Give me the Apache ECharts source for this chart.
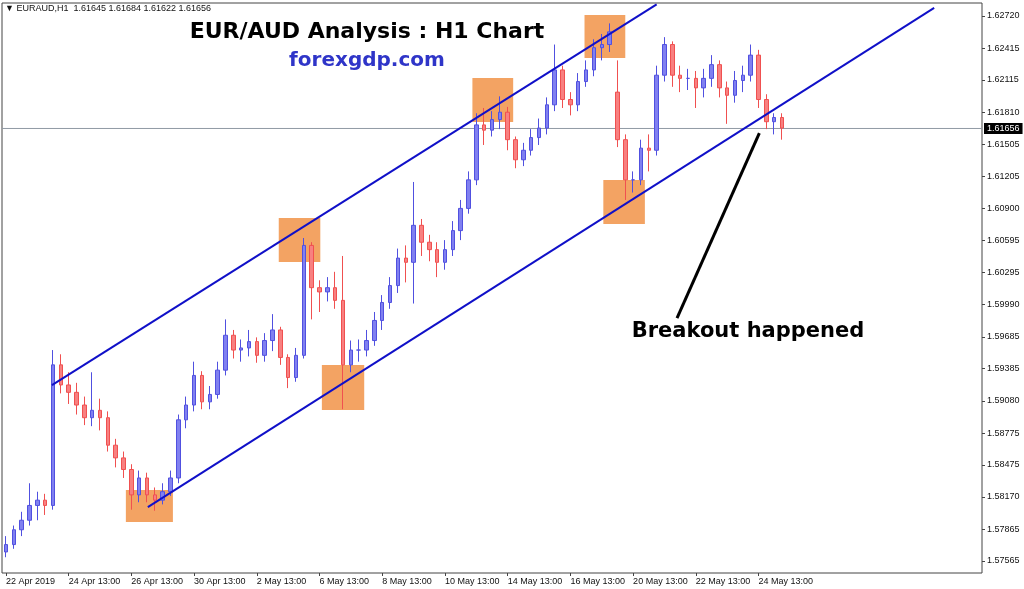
<!DOCTYPE html>
<html><head><meta charset="utf-8">
<script src="https://cdn.jsdelivr.net/npm/echarts@6/dist/echarts.min.js"></script>
<style>html,body{margin:0;padding:0;background:#fff}#c{width:1024px;height:589px}</style>
</head><body><div id="c"></div>
<script>
// [open, close, low, high], each candle = 6 H1 bars
const candles = [
[1.5765,1.5772,1.5760,1.5780],[1.5772,1.5786,1.5768,1.5790],[1.5786,1.5795,1.5780,1.5803],[1.5795,1.5809,1.5790,1.5830],
[1.5809,1.5814,1.5795,1.5822],[1.5814,1.5809,1.5800,1.5820],[1.5809,1.5942,1.5805,1.5956],[1.5942,1.5923,1.5915,1.5952],
[1.5923,1.5916,1.5905,1.5935],[1.5916,1.5904,1.5895,1.5925],[1.5904,1.5892,1.5885,1.5912],[1.5892,1.5899,1.5884,1.5935],
[1.5899,1.5892,1.5880,1.5910],[1.5892,1.5866,1.5860,1.5898],[1.5866,1.5854,1.5845,1.5872],[1.5854,1.5843,1.5835,1.5860],
[1.5843,1.5819,1.5805,1.5848],[1.5819,1.5835,1.5812,1.5842],[1.5835,1.5819,1.5812,1.5840],[1.5819,1.5814,1.5804,1.5826],
[1.5814,1.5822,1.5810,1.5830],[1.5822,1.5835,1.5818,1.5842],[1.5835,1.5890,1.5830,1.5895],[1.5890,1.5904,1.5882,1.5912],
[1.5904,1.5932,1.5898,1.5945],[1.5932,1.5907,1.5900,1.5936],[1.5907,1.5914,1.5900,1.5922],[1.5914,1.5937,1.5910,1.5945],
[1.5937,1.5970,1.5932,1.5985],[1.5970,1.5956,1.5948,1.5975],[1.5956,1.5958,1.5945,1.5966],[1.5958,1.5964,1.5950,1.5975],
[1.5964,1.5951,1.5944,1.5968],[1.5951,1.5965,1.5945,1.5972],[1.5965,1.5975,1.5955,1.5990],[1.5975,1.5949,1.5942,1.5978],
[1.5949,1.5930,1.5920,1.5952],[1.5930,1.5951,1.5926,1.5958],[1.5951,1.6055,1.5948,1.6062],[1.6055,1.6015,1.5985,1.6058],
[1.6015,1.6011,1.5992,1.6022],[1.6011,1.6015,1.6002,1.6025],[1.6015,1.6003,1.5995,1.6030],[1.6003,1.5942,1.5900,1.6045],
[1.5942,1.5956,1.5935,1.5965],[1.5956,1.5956,1.5945,1.5966],[1.5956,1.5965,1.5950,1.5975],[1.5965,1.5984,1.5960,1.5992],
[1.5984,1.6001,1.5975,1.6008],[1.6001,1.6017,1.5995,1.6025],[1.6017,1.6043,1.6010,1.6052],[1.6043,1.6039,1.6020,1.6055],
[1.6039,1.6074,1.6000,1.6115],[1.6074,1.6058,1.6045,1.6080],[1.6058,1.6051,1.6040,1.6065],[1.6051,1.6039,1.6025,1.6058],
[1.6039,1.6051,1.6032,1.6060],[1.6051,1.6069,1.6045,1.6078],[1.6069,1.6090,1.6060,1.6098],[1.6090,1.6117,1.6085,1.6125],
[1.6117,1.6169,1.6112,1.6180],[1.6169,1.6164,1.6150,1.6185],[1.6164,1.6174,1.6158,1.6182],[1.6174,1.6181,1.6165,1.6196],
[1.6181,1.6155,1.6145,1.6186],[1.6155,1.6136,1.6128,1.6158],[1.6136,1.6145,1.6130,1.6152],[1.6145,1.6157,1.6140,1.6165],
[1.6157,1.6166,1.6150,1.6175],[1.6166,1.6188,1.6160,1.6195],[1.6188,1.6221,1.6182,1.6245],[1.6221,1.6193,1.6185,1.6225],
[1.6193,1.6188,1.6178,1.6200],[1.6188,1.6210,1.6182,1.6218],[1.6210,1.6221,1.6205,1.6230],[1.6221,1.6242,1.6215,1.6250],
[1.6242,1.6245,1.6230,1.6255],[1.6245,1.6257,1.6238,1.6265],[1.6200,1.6155,1.6148,1.6230],[1.6155,1.6117,1.6098,1.6160],
[1.6117,1.6117,1.6105,1.6125],[1.6117,1.6147,1.6112,1.6155],[1.6147,1.6145,1.6125,1.6160],[1.6145,1.6216,1.6140,1.6225],
[1.6216,1.6245,1.6210,1.6252],[1.6245,1.6216,1.6205,1.6248],[1.6216,1.6213,1.6200,1.6225],[1.6213,1.6213,1.6202,1.6222],
[1.6213,1.6204,1.6185,1.6220],[1.6204,1.6213,1.6195,1.6222],[1.6213,1.6226,1.6205,1.6235],[1.6226,1.6204,1.6195,1.6230],
[1.6204,1.6197,1.6170,1.6210],[1.6197,1.6211,1.6190,1.6220],[1.6211,1.6216,1.6200,1.6225],[1.6216,1.6235,1.6210,1.6245],
[1.6235,1.6193,1.6185,1.6240],[1.6193,1.6172,1.6165,1.6198],[1.6172,1.6176,1.6160,1.6180],[1.6176,1.6166,1.6155,1.6180]
];
const xTickLabels = ['22 Apr 2019','24 Apr 13:00','26 Apr 13:00','30 Apr 13:00','2 May 13:00','6 May 13:00','8 May 13:00','10 May 13:00','14 May 13:00','16 May 13:00','20 May 13:00','22 May 13:00','24 May 13:00'];
const yTicks = [1.62720,1.62415,1.62115,1.61810,1.61505,1.61205,1.60900,1.60595,1.60295,1.59990,1.59685,1.59385,1.59080,1.58775,1.58475,1.58170,1.57865,1.57565];
const lastPrice = 1.61656;
const upperChannel = [[5.87,1.59229],[83.0,1.62830]];
const lowerChannel = [[18.1,1.58075],[118.4,1.62796]];
const arrowLine = [[85.6,1.59863],[96.1,1.61613]];
const boxes = [
 [[15.3,1.58236],[21.3,1.57933]],[[34.8,1.60809],[40.1,1.60393]],[[40.3,1.59418],[45.7,1.58993]],
 [[59.5,1.62133],[64.7,1.61717]],[[73.8,1.62729],[79.0,1.62323]],[[76.2,1.61169],[81.5,1.60752]]
];
const SLOTS = 125, PER_LABEL = 8;
const cats = [];
for (let i=0;i<SLOTS;i++){ const k=i/PER_LABEL; cats.push(Number.isInteger(k)&&k<xTickLabels.length?xTickLabels[k]:''); }
const FONT='Liberation Sans';
const chart = echarts.init(document.getElementById('c'));
chart.setOption({
 animation:false,
 grid:{left:2,right:42,top:3,bottom:16,show:true,borderColor:'#444',borderWidth:1},
 xAxis:[{type:'category',data:cats,boundaryGap:true,
   axisLine:{show:false},axisTick:{show:true,alignWithLabel:true,length:3,lineStyle:{color:'#444'},interval:function(i,v){return v!=='';}},
   axisLabel:{interval:0,fontSize:9,fontFamily:FONT,color:'#111',align:'left',margin:4},splitLine:{show:false}},
  {type:'value',min:-0.5,max:SLOTS-0.5,show:false}],
 yAxis:{type:'value',position:'right',min:1.57451,max:1.62843,
   axisLine:{show:false,onZero:false},
   axisTick:{show:true,length:3,customValues:yTicks,lineStyle:{color:'#444'}},
   axisLabel:{customValues:yTicks,fontSize:9,fontFamily:FONT,color:'#111',margin:5,formatter:v=>v.toFixed(5)},
   splitLine:{show:false}},
 series:[
  {type:'line',xAxisIndex:1,data:[],silent:true,
   markArea:{silent:true,itemStyle:{color:'rgba(240,140,60,0.8)'},data:boxes.map(b=>[{coord:b[0]},{coord:b[1]}])}},
  {type:'line',xAxisIndex:1,data:[[-0.5,lastPrice],[SLOTS-0.5,lastPrice]],symbol:'none',z:1,silent:true,
   lineStyle:{color:'#909aa4',width:1},
   endLabel:{show:true,formatter:lastPrice.toFixed(5),backgroundColor:'#000',color:'#fff',fontSize:9,fontFamily:FONT,padding:[1,3],distance:2}},
  {type:'candlestick',data:candles,barWidth:4,z:3,
   itemStyle:{color:'#8080f0',color0:'#f88080',borderColor:'#5050e0',borderColor0:'#f05050',borderWidth:1}},
  {type:'line',xAxisIndex:1,data:upperChannel,symbol:'none',lineStyle:{color:'#1010c8',width:2},z:5},
  {type:'line',xAxisIndex:1,data:lowerChannel,symbol:'none',lineStyle:{color:'#1010c8',width:2},z:5},
  {type:'line',xAxisIndex:1,data:arrowLine,symbol:'none',lineStyle:{color:'#000',width:3},z:5}
 ],
 graphic:[
  {type:'text',left:5,top:4,style:{text:'▼ EURAUD,H1  1.61645 1.61684 1.61622 1.61656',fontSize:9,fontFamily:FONT,fill:'#111'}},
  {type:'text',x:367,y:32,style:{text:'EUR/AUD Analysis : H1 Chart',fontSize:22,fontWeight:'bold',fontFamily:'DejaVu Sans',fill:'#000',align:'center',verticalAlign:'middle'}},
  {type:'text',x:367,y:61,style:{text:'forexgdp.com',fontSize:20,fontWeight:'bold',fontFamily:'DejaVu Sans',fill:'#2f35c8',align:'center',verticalAlign:'middle'}},
  {type:'text',x:748,y:332,style:{text:'Breakout happened',fontSize:21,fontWeight:'bold',fontFamily:'DejaVu Sans',fill:'#000',align:'center',verticalAlign:'middle'}}
 ]
});
</script></body></html>
